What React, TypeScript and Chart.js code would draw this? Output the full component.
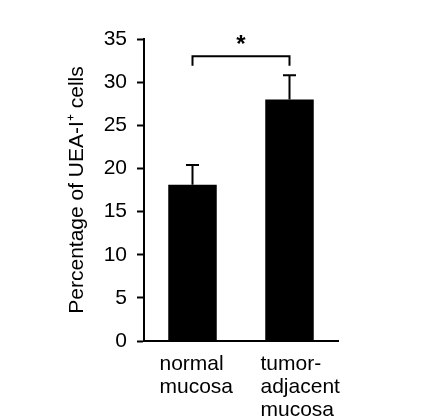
import { useEffect, useRef } from "react"
import { Chart, registerables } from "chart.js"

Chart.register(...registerables)

// Data
const categories = [["normal", "mucosa"], ["tumor-", "adjacent", "mucosa"]]
const meanValues = [18.1, 28.0]
const errorTops = [20.4, 30.8]
const yTicks = [0, 5, 10, 15, 20, 25, 30, 35]
const bracketLevel = 33.0
const bracketFoot = 31.9
const starLevel = 34.7
const significance = "*"

const FONT = "'Liberation Sans', Arial, sans-serif"

// Error bars, significance bracket and left-aligned category labels
const annotationsPlugin = {
    id: "annotations",
    afterDatasetsDraw(chart: Chart) {
        const ctx = chart.ctx
        const y = chart.scales.y
        const x = chart.scales.x
        const bars = chart.getDatasetMeta(0).data
        ctx.save()
        ctx.strokeStyle = "#000"
        ctx.lineWidth = 2
        ctx.lineCap = "butt"
        bars.forEach((bar: any, i: number) => {
            const top = y.getPixelForValue(errorTops[i])
            ctx.beginPath()
            ctx.moveTo(bar.x, bar.y)
            ctx.lineTo(bar.x, top)
            ctx.moveTo(bar.x - 6.5, top)
            ctx.lineTo(bar.x + 6.5, top)
            ctx.stroke()
        })

        // bracket between the two groups
        const x0 = x.getPixelForValue(0)
        const x1 = x.getPixelForValue(1)
        const by = y.getPixelForValue(bracketLevel)
        const fy = y.getPixelForValue(bracketFoot)
        ctx.beginPath()
        ctx.moveTo(x0, fy)
        ctx.lineTo(x0, by)
        ctx.lineTo(x1, by)
        ctx.lineTo(x1, fy)
        ctx.stroke()

        ctx.fillStyle = "#000"
        ctx.font = `bold 24px ${FONT}`
        ctx.textAlign = "center"
        ctx.textBaseline = "middle"
        ctx.fillText(significance, (x0 + x1) / 2, y.getPixelForValue(starLevel) + 4)

        // category labels, lines aligned on the left
        ctx.font = `21px ${FONT}`
        ctx.textAlign = "left"
        ctx.textBaseline = "alphabetic"
        categories.forEach((lines, i) => {
            const cx = x.getPixelForValue(i)
            lines.forEach((line, j) => {
                ctx.fillText(line, cx - 33 + i * 4, x.bottom - 46 + j * 23)
            })
        })
        ctx.restore()
    },
}

export default function App() {
    const chartRef = useRef<HTMLCanvasElement>(null)
    const chartInstance = useRef<Chart | null>(null)

    useEffect(() => {
        document.body.style.margin = "0"
        if (!chartRef.current) return
        if (chartInstance.current) chartInstance.current.destroy()
        const ctx = chartRef.current.getContext("2d")
        if (!ctx) return

        chartInstance.current = new Chart(ctx, {
            type: "bar",
            data: {
                labels: categories.map((c) => c.join(" ")),
                datasets: [
                    {
                        data: meanValues,
                        backgroundColor: "#000",
                        borderWidth: 0,
                        barPercentage: 0.5,
                        categoryPercentage: 1,
                    },
                ],
            },
            options: {
                animation: false,
                responsive: true,
                maintainAspectRatio: false,
                layout: { padding: { left: 60, right: 89, top: 39, bottom: 0 } },
                plugins: {
                    legend: { display: false },
                    tooltip: { enabled: false },
                },
                scales: {
                    x: {
                        grid: { display: false },
                        border: { display: true, color: "#000", width: 2 },
                        ticks: { display: false },
                        afterFit: (scale: any) => {
                            scale.height = 75
                        },
                    },
                    y: {
                        min: 0,
                        max: 35,
                        afterBuildTicks: (scale: any) => {
                            scale.ticks = yTicks.map((v) => ({ value: v }))
                        },
                        afterFit: (scale: any) => {
                            scale.width = 84
                        },
                        grid: {
                            drawOnChartArea: false,
                            drawTicks: true,
                            tickLength: 7,
                            tickWidth: 2,
                            tickColor: "#000",
                        },
                        border: { display: true, color: "#000", width: 2 },
                        ticks: {
                            color: "#000",
                            padding: 10,
                            font: { family: FONT, size: 21 },
                        },
                        title: {
                            display: true,
                            text: "Percentage of UEA-I⁺ cells",
                            color: "#000",
                            padding: { top: 5, bottom: 0 },
                            font: { family: FONT, size: 21 },
                        },
                    },
                },
            },
            plugins: [annotationsPlugin],
        })

        return () => {
            if (chartInstance.current) {
                chartInstance.current.destroy()
                chartInstance.current = null
            }
        }
    }, [])

    return (
        <div style={{ width: "427px", height: "416px", position: "relative", background: "#fff" }}>
            <canvas ref={chartRef}></canvas>
        </div>
    )
}
